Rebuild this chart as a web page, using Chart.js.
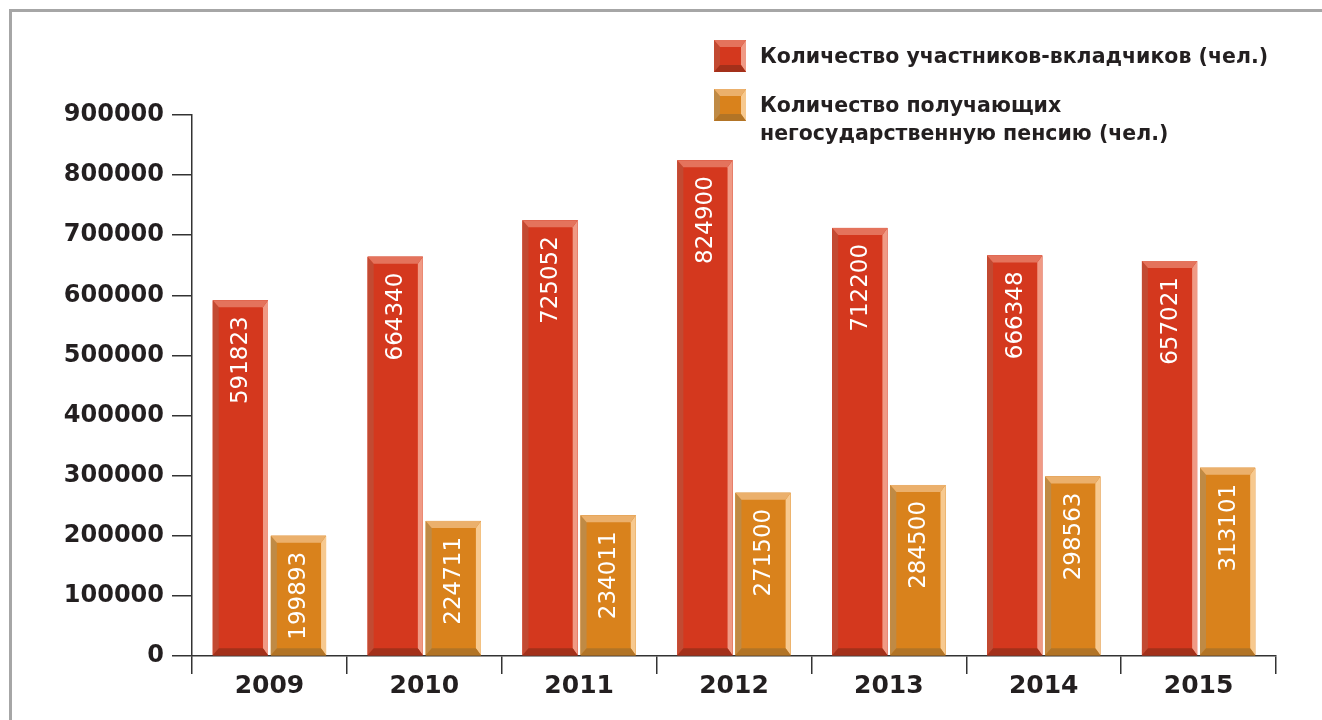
<!DOCTYPE html>
<html>
<head>
<meta charset="utf-8">
<script src="https://cdn.jsdelivr.net/npm/chart.js@4"></script>
<style>
    html, body { margin: 0; padding: 0; background: #fff; }
    #wrap { position: relative; width: 1322px; height: 720px; }
    #frame {
        position: absolute; left: 9px; top: 9px; right: 0; bottom: 0;
        border-top: 3px solid #a6a6a6; border-left: 3px solid #a6a6a6;
    }
    canvas { position: absolute; left: 0; top: 0; }
</style>
</head>
<body>
<div id="wrap">
    <div id="frame"></div>
    <canvas id="barChart" width="1322" height="720"></canvas>
</div>
<script>
// Years and values
const years = ['2009', '2010', '2011', '2012', '2013', '2014', '2015'];
const depositors = [591823, 664340, 725052, 824900, 712200, 666348, 657021];
const pensioners = [199893, 224711, 234011, 271500, 284500, 298563, 313101];
const yTicks = [0, 100000, 200000, 300000, 400000, 500000, 600000, 700000, 800000, 900000];
const seriesNames = [
    ['Количество участников-вкладчиков (чел.)'],
    ['Количество получающих', 'негосударственную пенсию (чел.)']
];

// face / top / left / right / bottom colours for the bevelled bars
const palettes = [
    { face: '#d4381e', top: '#e4735c', left: '#c24a32', right: '#f09a85', bottom: '#a3301a' },
    { face: '#d9821c', top: '#ebb06c', left: '#bf8a45', right: '#f7c98f', bottom: '#b27426' }
];

const FONT = '"DejaVu Sans", sans-serif';

function bevel(ctx, L, T, R, B, p) {
    const bl = 6, bt = 7, br = 5, bb = 7;
    ctx.fillStyle = p.face;
    ctx.fillRect(L, T, R - L, B - T);
    const poly = (pts, c) => {
        ctx.beginPath();
        ctx.moveTo(pts[0][0], pts[0][1]);
        for (let i = 1; i < pts.length; i++) ctx.lineTo(pts[i][0], pts[i][1]);
        ctx.closePath();
        ctx.fillStyle = c;
        ctx.fill();
    };
    poly([[L, T], [L + bl, T + bt], [L + bl, B - bb], [L, B]], p.left);
    poly([[R, T], [R, B], [R - br, B - bb], [R - br, T + bt]], p.right);
    poly([[L, T], [R, T], [R - br, T + bt], [L + bl, T + bt]], p.top);
    poly([[L, B], [L + bl, B - bb], [R - br, B - bb], [R, B]], p.bottom);
}

// draws the bevels and the rotated value labels on every bar
const bevelBars = {
    id: 'bevelBars',
    afterDatasetsDraw(chart) {
        const ctx = chart.ctx;
        chart.data.datasets.forEach((ds, di) => {
            const meta = chart.getDatasetMeta(di);
            meta.data.forEach((bar, i) => {
                const L = bar.x - bar.width / 2, R = bar.x + bar.width / 2;
                ctx.save();
                bevel(ctx, L, bar.y, R, bar.base, palettes[di]);
                ctx.translate(bar.x + 1, bar.y + 16);
                ctx.rotate(-Math.PI / 2);
                ctx.fillStyle = '#ffffff';
                ctx.font = '23px ' + FONT;
                ctx.textAlign = 'right';
                ctx.textBaseline = 'middle';
                ctx.fillText(String(ds.data[i]), 0, 0);
                ctx.restore();
            });
        });
    }
};

// legend in the top right corner, second entry runs over two lines
const sideLegend = {
    id: 'sideLegend',
    afterDraw(chart) {
        const ctx = chart.ctx;
        const rows = [56, 105];
        ctx.save();
        seriesNames.forEach((lines, i) => {
            const cy = rows[i];
            bevel(ctx, 714, cy - 16, 746, cy + 16, palettes[i]);
            ctx.fillStyle = '#231f20';
            ctx.font = 'bold 20.5px ' + FONT;
            ctx.textAlign = 'left';
            ctx.textBaseline = 'middle';
            lines.forEach((t, j) => ctx.fillText(t, 760, cy + 2 + j * 28));
        });
        ctx.restore();
    }
};

const ctx = document.getElementById('barChart').getContext('2d');

new Chart(ctx, {
    type: 'bar',
    data: {
        labels: years,
        datasets: [
            { label: seriesNames[0].join(' '), data: depositors, backgroundColor: palettes[0].face },
            { label: seriesNames[1].join(' '), data: pensioners, backgroundColor: palettes[1].face }
        ]
    },
    options: {
        responsive: false,
        animation: false,
        layout: { padding: { top: 115, right: 46, left: 0, bottom: 0 } },
        categoryPercentage: 0.75,
        barPercentage: 0.95,
        plugins: {
            legend: { display: false },
            tooltip: { enabled: false }
        },
        scales: {
            x: {
                grid: { drawOnChartArea: false, offset: true, tickLength: 18, color: '#333', lineWidth: 1.5 },
                border: { color: '#333', width: 1.5 },
                ticks: { color: '#231f20', font: { family: FONT, size: 25, weight: 'bold' }, padding: -3 },
                afterFit(scale) { scale.height = 64; }
            },
            y: {
                min: 0,
                max: 900000,
                afterBuildTicks(scale) { scale.ticks = yTicks.map(v => ({ value: v })); },
                grid: { drawOnChartArea: false, tickLength: 20, color: '#333', lineWidth: 1.5 },
                border: { color: '#333', width: 1.5 },
                ticks: {
                    color: '#231f20',
                    font: { family: FONT, size: 24, weight: 'bold' },
                    padding: 8,
                    callback: v => String(v)
                },
                afterFit(scale) { scale.width = 192; }
            }
        }
    },
    plugins: [bevelBars, sideLegend]
});
</script>
</body>
</html>
